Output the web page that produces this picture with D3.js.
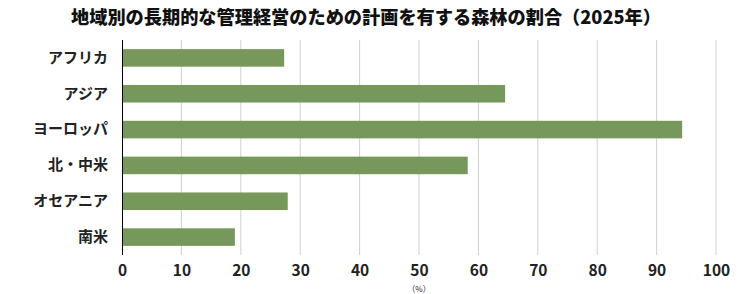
<!DOCTYPE html>
<html>
<head>
<meta charset="utf-8">
<script src="https://cdn.jsdelivr.net/npm/d3@7"></script>
<style>
  body { margin: 0; background: #fff; }
  svg text { font-family: "Noto Sans CJK JP", "Noto Sans", sans-serif; }
</style>
</head>
<body>
<svg id="drawing_region"></svg>
<script>
// data
const title = '地域別の長期的な管理経営のための計画を有する森林の割合（2025年）';
const regions = ['アフリカ', 'アジア', 'ヨーロッパ', '北・中米', 'オセアニア', '南米'];
const shares = [27.3, 64.5, 94.3, 58.2, 27.9, 19.0];
const xTicks = [0, 10, 20, 30, 40, 50, 60, 70, 80, 90, 100];
const unitLabel = '（%）';

const width = 746, height = 294;
const margin = { top: 40, right: 30, bottom: 39, left: 122 };

const svg = d3.select('#drawing_region')
    .attr('width', width)
    .attr('height', height);

const innerW = 716 - margin.left;
const innerH = height - margin.top - margin.bottom;

const chart = svg.append('g')
    .attr('transform', `translate(${margin.left},${margin.top})`);

const x = d3.scaleLinear().domain([0, 100]).range([0, innerW]);
const y = d3.scaleBand().domain(regions).range([0, innerH]).paddingInner(0.51).paddingOuter(0.255);

// gridlines
chart.selectAll('.grid')
    .data(xTicks.filter(t => t > 0))
    .enter()
    .append('line')
    .attr('x1', d => x(d)).attr('x2', d => x(d))
    .attr('y1', 0).attr('y2', innerH)
    .attr('stroke', '#d0d0d0')
    .attr('stroke-width', 1);

// bars
chart.selectAll('.bar')
    .data(regions)
    .enter()
    .append('rect')
    .attr('x', x(0))
    .attr('y', d => y(d))
    .attr('width', (d, i) => x(shares[i]) - x(0))
    .attr('height', y.bandwidth())
    .attr('fill', '#76985a');

// x axis labels
const xAxis = chart.append('g')
    .attr('transform', `translate(0,${innerH})`)
    .call(d3.axisBottom(x).tickValues(xTicks).tickSize(0).tickPadding(10));
xAxis.select('.domain').remove();
xAxis.selectAll('text')
    .attr('font-size', 15.5)
    .attr('font-weight', 'bold')
    .attr('fill', '#222');

// y axis
const yAxis = chart.append('g')
    .call(d3.axisLeft(y).tickSize(0).tickPadding(14));
yAxis.select('.domain')
    .attr('stroke', '#000')
    .attr('d', `M0.5,0V${innerH}`);
yAxis.selectAll('text')
    .attr('font-size', 15)
    .attr('font-weight', 'bold')
    .attr('fill', '#222');

// title
svg.append('text')
    .attr('x', 366)
    .attr('y', 24)
    .attr('text-anchor', 'middle')
    .attr('font-size', 18.2)
    .attr('font-weight', 900)
    .attr('fill', '#111')
    .text(title);

// unit
svg.append('text')
    .attr('x', margin.left + x(50))
    .attr('y', 292)
    .attr('text-anchor', 'middle')
    .attr('font-size', 8)
    .attr('fill', '#222')
    .text(unitLabel);
</script>
</body>
</html>
